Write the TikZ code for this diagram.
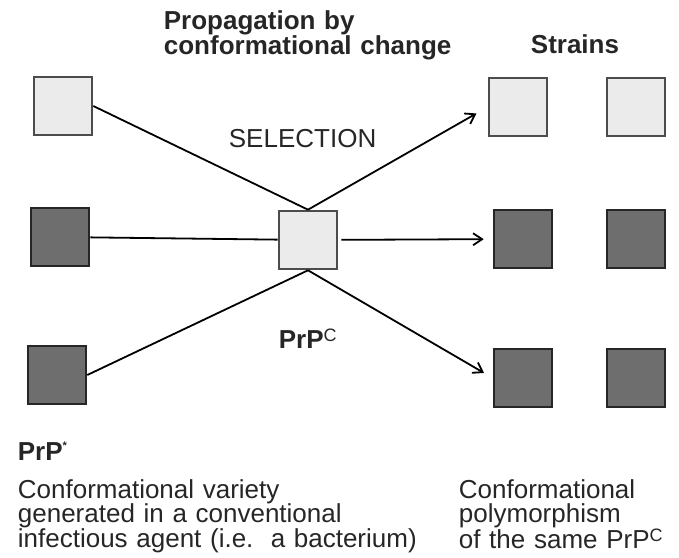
\documentclass[tikz,border=0pt]{standalone}
\usepackage{fontspec}
\setmainfont{Liberation Sans}
\usetikzlibrary{arrows.meta,positioning}
\newcommand{\supc}{\raisebox{7pt}{\fontsize{18}{18}\mdseries\selectfont C}}
\begin{document}
\begin{tikzpicture}[x=1pt,y=-1pt,>={Straight Barb[length=9pt,width=12pt]},line width=1.8pt,
  light/.style={draw=black!70,line width=2.6pt,fill=black!8,minimum size=58pt,inner sep=0pt},
  dark/.style={draw=black!85,line width=2.6pt,fill=black!57,minimum size=58pt,inner sep=0pt},
  lbl/.style={font=\fontsize{26}{24.5}\selectfont,text=black!85,inner sep=0pt,anchor=base west},
  head/.style={lbl,font=\fontsize{26}{24.5}\selectfont\bfseries},
  node distance=118pt]
\useasboundingbox (0,0) rectangle (679,557);
% conformers on the left
\node[light] (a1) at (63,106) {};
\node[dark] (a2) at (60,237) {};
\node[dark] (a3) at (57,375) {};
% host protein
\node[light] (c) at (308,240) {};
% strains on the right
\node[light] (s1) at (518,107) {};
\node[light,right of=s1] (t1) {};
\node[dark] (s2) at (523,239) {};
\node[dark,right of=s2,node distance=113pt] (t2) {};
\node[dark] (s3) at (523,378) {};
\node[dark,right of=s3,node distance=113pt] (t3) {};
\draw (a1.east)--(c.north);\draw (a2)--(c);\draw (a3.east)--(c.south);
\draw[->,shorten >=13pt] (c.north)--(s1.west);
\draw[->,shorten <=3pt,shorten >=9pt] (c)--(s2);
\draw[->,shorten >=10pt] (c.south)--(s3.west);
% labels
\node[head,text width=320pt] (prop) at (163,29.5) {Propagation by\\conformational change};
\node[head] (strains) at (530,53) {Strains};
\node[lbl] (sel) at (228,147) {SELECTION};
\node[head] (prpc) at (278,348) {PrP\supc};
\node[head] (prps) at (17,460) {PrP\raisebox{11pt}{\fontsize{11}{11}\selectfont *}};
\node[lbl,text width=430pt] (variety) at (17,498) {Conformational variety\\generated in a conventional\\infectious agent (i.e.\ \ a bacterium)};
\node[lbl,text width=220pt] (poly) at (458,498) {Conformational\\polymorphism\\of the same PrP\supc};
\end{tikzpicture}
\end{document}
